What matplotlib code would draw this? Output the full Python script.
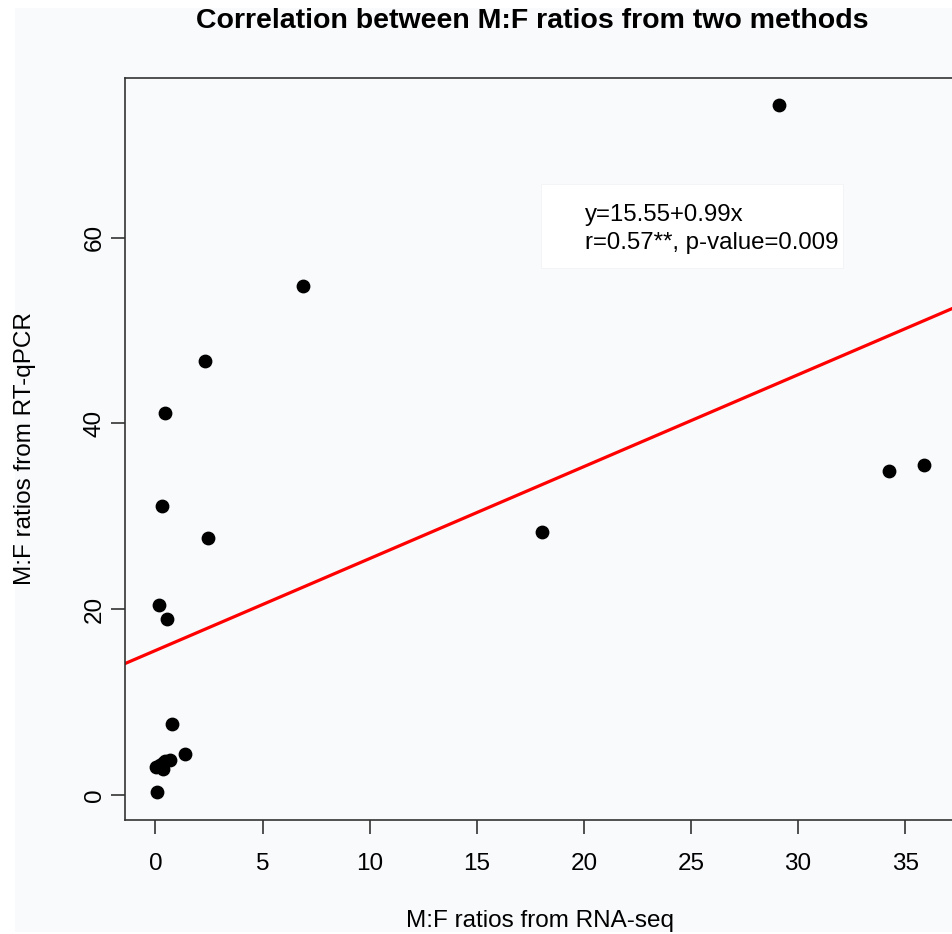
import numpy as np
import matplotlib.pyplot as plt
from matplotlib.patches import Rectangle

plt.rcParams['font.family'] = ['Liberation Sans', 'DejaVu Sans']

# M:F ratios
rna_seq = [29.1, 6.88, 2.31, 0.44, 0.30, 2.45, 0.16, 0.54, 18.04, 34.25, 35.86,
           0.76, 1.36, 0.68, 0.34, 0.01, 0.34, 0.06, 0.45, 0.20]
rt_qpcr = [74.3, 54.8, 46.7, 41.1, 31.1, 27.7, 20.5, 18.9, 28.3, 34.9, 35.5,
           7.66, 4.39, 3.75, 3.46, 2.96, 2.74, 0.34, 3.60, 3.20]
# fitted line from the label
intercept = 15.55
slope = 0.99

bg = '#f9fafc'
fig = plt.figure(figsize=(9.53, 9.34), dpi=100, facecolor='white')
fig.patches.append(Rectangle((15/953, 2/934), 1, 924/934, transform=fig.transFigure,
                             facecolor=bg, edgecolor='none', zorder=-10))
ax = fig.add_axes([125/953, 1-820/934, 829.4/953, 742/934])
ax.set_facecolor(bg)

ax.scatter(rna_seq, rt_qpcr, s=80, color='black', zorder=3)
ax.axline((0, intercept), slope=slope, color='red', lw=2.3, zorder=2)

ax.set_xlim(-1.42, 37.3)
ax.set_ylim(-2.7, 77.2)
ax.set_xticks(np.arange(0, 36, 5))
ax.set_yticks([0, 20, 40, 60])
ax.tick_params(direction='out', length=10, width=1.2, color='#333333', labelsize=17.5)
ax.tick_params(axis='x', pad=14)
ax.tick_params(axis='y', pad=4)
for lab in ax.get_yticklabels():
    lab.set_rotation(90)
    lab.set_va('center')
for sp in ax.spines.values():
    sp.set_color('#333333')
    sp.set_linewidth(1.2)

ax.set_title('Correlation between M:F ratios from two methods', fontsize=20.5,
             fontweight='bold', pad=36, x=0.4915)
ax.set_xlabel('M:F ratios from RNA-seq', fontsize=17.5, labelpad=25)
ax.set_ylabel('M:F ratios from RT-qPCR', fontsize=17.5, labelpad=34)

# legend-like box behind the fit text
ax.add_patch(Rectangle((18.0, 56.7), 14.1, 9.05, facecolor='white',
                       edgecolor='#f2f3f5', lw=0.6, zorder=2.5))
ax.text(20.05, 60.95, 'y=15.55+0.99x\nr=0.57**, p-value=0.009', fontsize=17.3,
        va='center', ha='left', linespacing=1.36, zorder=4)

plt.savefig('out.png', dpi=100, facecolor=fig.get_facecolor())
